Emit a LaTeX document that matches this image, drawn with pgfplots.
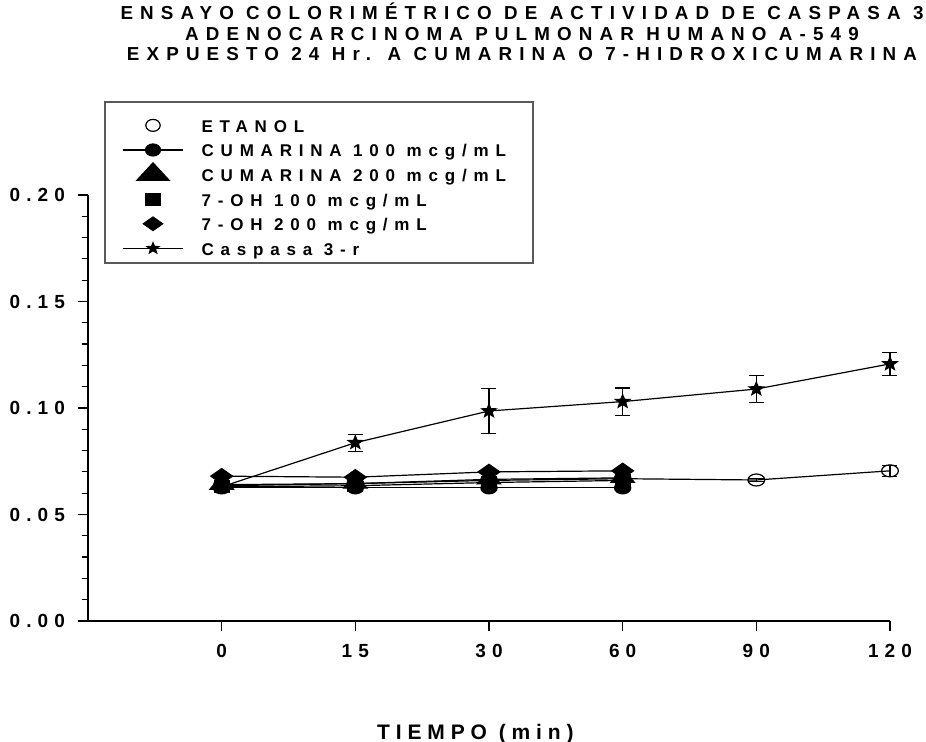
\documentclass[border=0pt]{standalone}
\usepackage{fontspec}
\usepackage{pgfplots}
\pgfplotsset{compat=1.18}
\newfontfamily\titlefam{Liberation Sans}[LetterSpace=38]
\newfontfamily\tickfam{Liberation Sans}[LetterSpace=32]
\newfontfamily\legfam{Liberation Sans}[LetterSpace=40]
\newfontfamily\labfam{Liberation Sans}[LetterSpace=28]
\newcommand\titlefont{\titlefam\bfseries\fontsize{9.4}{10}\selectfont}
\newcommand\tickfont{\tickfam\bfseries\fontsize{9.5}{10}\selectfont}
\newcommand\legfont{\legfam\bfseries\fontsize{8.5}{9}\selectfont}
\newcommand\labfont{\labfam\bfseries\fontsize{10.5}{12}\selectfont}

% filled five-pointed star
\pgfdeclareplotmark{fstar}{%
  \pgfpathmoveto{\pgfpointpolar{90}{\pgfplotmarksize}}%
  \pgfpathlineto{\pgfpointpolar{126}{0.42\pgfplotmarksize}}%
  \pgfpathlineto{\pgfpointpolar{162}{\pgfplotmarksize}}%
  \pgfpathlineto{\pgfpointpolar{198}{0.42\pgfplotmarksize}}%
  \pgfpathlineto{\pgfpointpolar{234}{\pgfplotmarksize}}%
  \pgfpathlineto{\pgfpointpolar{270}{0.42\pgfplotmarksize}}%
  \pgfpathlineto{\pgfpointpolar{306}{\pgfplotmarksize}}%
  \pgfpathlineto{\pgfpointpolar{342}{0.42\pgfplotmarksize}}%
  \pgfpathlineto{\pgfpointpolar{18}{\pgfplotmarksize}}%
  \pgfpathlineto{\pgfpointpolar{54}{0.42\pgfplotmarksize}}%
  \pgfpathclose
  \pgfusepathqfillstroke
}

% legend symbols: a line with a mark in its middle, or the mark alone
\pgfplotsset{
  lineleg/.style={legend image code/.code={%
    \path[draw=none, fill=none] (0pt,-3.5pt) rectangle (30pt,3.5pt);%
    \draw[mark=none] (0pt,0pt) -- (30pt,0pt);%
    \path[overlay] plot coordinates {(15pt,0pt)};}},
  markleg/.style={legend image code/.code={%
    \path[draw=none, fill=none] (0pt,-3.5pt) rectangle (30pt,3.5pt);%
    \path[overlay] plot coordinates {(15pt,0pt)};}},
}

% Caspasa 3 activity (absorbance) against time; x is the category index
\pgfplotstableread{
x  y       e
0  0.0630  0.0000
1  0.0837  0.0040
2  0.0986  0.0106
3  0.1030  0.0064
4  0.1089  0.0064
5  0.1207  0.0055
}\caspasa
\pgfplotstableread{
x  y       e
0  0.0635  0.0010
1  0.0645  0.0008
2  0.0660  0.0008
3  0.0668  0.0008
4  0.0662  0.0008
5  0.0705  0.0025
}\etanol
\pgfplotstableread{
x  y
0  0.0625
1  0.0625
2  0.0625
3  0.0625
}\cumA
\pgfplotstableread{
x  y
0  0.0640
1  0.0645
2  0.0665
3  0.0672
}\cumB
\pgfplotstableread{
x  y
0  0.0630
1  0.0635
2  0.0650
3  0.0660
}\ohA
\pgfplotstableread{
x  y
0  0.0680
1  0.0675
2  0.0700
3  0.0705
}\ohB

\begin{document}
\begin{tikzpicture}
\useasboundingbox (-44pt,-60.5pt) rectangle (419pt,310.5pt);
\begin{axis}[
  scale only axis,
  width=401pt, height=213pt,
  xmin=-1, xmax=5, ymin=0, ymax=0.2,
  clip=false,
  axis lines=left,
  axis line style={-, line width=0.75pt},
  tick align=outside,
  major tick length=5pt, minor tick length=3pt,
  tick style={black, line width=0.6pt},
  xtick={0,1,2,3,4,5},
  xticklabels={0,15,30,60,90,120},
  ytick={0,0.05,0.1,0.15,0.2},
  minor y tick num=4,
  /pgf/number format/assume math mode=true,
  yticklabel style={/pgf/number format/fixed, /pgf/number format/fixed zerofill, /pgf/number format/precision=2, xshift=-3pt},
  tick label style={font=\tickfont},
  xticklabel style={yshift=-3pt},
  legend cell align=left,
  legend style={
    at={(axis description cs:0.0424,1.1808)}, anchor=north west,
    draw=none, fill=none,
    inner sep=0pt,
    font=\legfont,
    nodes={inner sep=0pt, text height=7pt, text depth=0pt},
    row sep=5.3pt, column sep=9pt,
  },
]
% legend entries
\addlegendimage{markleg, draw=none, mark=o, mark size=3pt, mark options={draw=black, fill=white, line width=0.6pt, xscale=1.2}}
\addlegendentry{\makebox[158pt][l]{ETANOL}}
\addlegendimage{lineleg, black, line width=0.6pt, mark=*, mark size=3pt, mark options={xscale=1.25}}
\addlegendentry{\makebox[158pt][l]{CUMARINA 100 mcg/mL}}
\addlegendimage{markleg, draw=none, mark=triangle*, mark size=6pt, mark options={draw=black, fill=black, xscale=1.6}}
\addlegendentry{\makebox[158pt][l]{CUMARINA 200 mcg/mL}}
\addlegendimage{markleg, draw=none, mark=square*, mark size=2.9pt, mark options={draw=black, fill=black, xscale=1.25}}
\addlegendentry{\makebox[158pt][l]{7-OH 100 mcg/mL}}
\addlegendimage{markleg, draw=none, mark=diamond*, mark size=3.5pt, mark options={draw=black, fill=black, xscale=1.9}}
\addlegendentry{\makebox[158pt][l]{7-OH 200 mcg/mL}}
\addlegendimage{lineleg, black, line width=0.6pt, mark=fstar, mark size=2.8pt, mark options={fill=black, xscale=1.1}}
\addlegendentry{\makebox[158pt][l]{Caspasa 3-r}}

% legend frame
\draw[black!65, line width=0.6pt] (axis description cs:0.0212,1.2183) rectangle (axis description cs:0.5549,0.8404);

% data series
\addplot[forget plot, black, line width=0.6pt, mark=*, mark size=3pt, mark options={xscale=1.35}] table {\cumA};
\addplot[forget plot, black, line width=0.6pt, mark=square*, mark size=2.9pt, mark options={xscale=1.3}] table {\ohA};
\addplot[forget plot, black, line width=0.6pt, mark=triangle*, mark size=4.5pt, mark options={xscale=1.5}] table {\cumB};
\addplot[forget plot, black, line width=0.6pt, mark=diamond*, mark size=3.8pt, mark options={xscale=1.9}] table {\ohB};
\addplot[forget plot, black, line width=0.6pt, mark=o, mark size=3pt,
  mark options={fill=white, xscale=1.4},
  error bars/.cd, y dir=both, y explicit,
  error bar style={line width=0.6pt},
  error mark options={rotate=90, mark size=3.75pt, line width=0.6pt}]
  table[y error=e] {\etanol};
\addplot[forget plot, black, line width=0.6pt, mark=fstar, mark size=3.4pt, mark options={fill=black, xscale=1.1},
  error bars/.cd, y dir=both, y explicit,
  error bar style={line width=0.6pt},
  error mark options={rotate=90, mark size=3.75pt, line width=0.6pt}]
  table[y error=e] {\caspasa};
\end{axis}
% titles
\node[anchor=base, font=\titlefont] at (217pt,300.5pt) {ENSAYO COLORIMÉTRICO DE ACTIVIDAD DE CASPASA 3};
\node[anchor=base, font=\titlefont] at (217pt,290pt) {ADENOCARCINOMA PULMONAR HUMANO A-549};
\node[anchor=base, font=\titlefont] at (217pt,280pt) {EXPUESTO 24 Hr. A CUMARINA O 7-HIDROXICUMARINA};
\node[anchor=base east, font=\labfont, inner sep=0pt] at (243pt,-59.5pt) {TIEMPO (min)};
\end{tikzpicture}
\end{document}
